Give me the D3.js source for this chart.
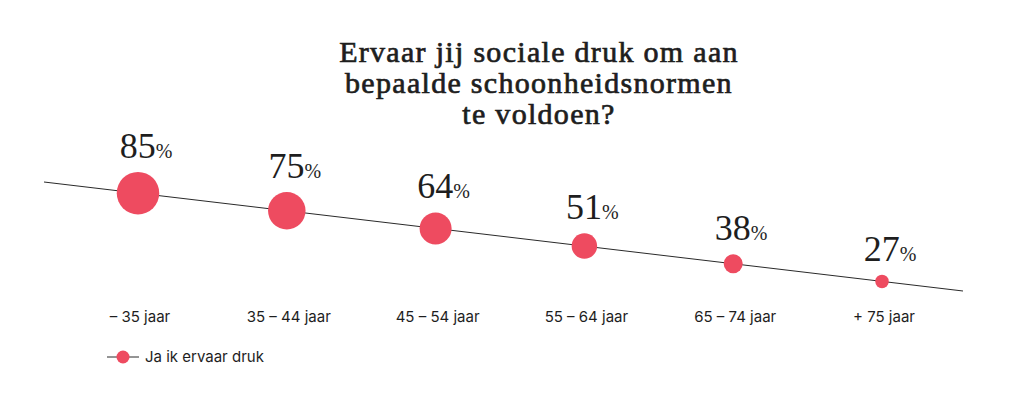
<!DOCTYPE html>
<html>
<head>
<meta charset="utf-8">
<script src="https://cdn.jsdelivr.net/npm/d3@7"></script>
<style>
  html, body { margin: 0; padding: 0; background: #fff; }
  svg { display: block; }
</style>
</head>
<body>
<svg id="chart" width="1024" height="420"></svg>
<script>
const titleLines = ["Ervaar jij sociale druk om aan", "bepaalde schoonheidsnormen", "te voldoen?"];
const categories = ["\u2013 35 jaar", "35 \u2013 44 jaar", "45 \u2013 54 jaar", "55 \u2013 64 jaar", "65 \u2013 74 jaar", "+ 75 jaar"];
const values = [85, 75, 64, 51, 38, 27];
const seriesName = "Ja ik ervaar druk";

const color = "#ee4b60";
const textColor = "#1e1e1e";
const serif = "'Liberation Serif', 'DejaVu Serif', serif";
const sans = "Inter, 'Noto Sans', sans-serif";

const svg = d3.select("#chart");

// Title
svg.append("text")
  .attr("text-anchor", "middle")
  .attr("font-family", serif)
  .attr("font-weight", 400)
  .attr("font-size", 30)
  .attr("letter-spacing", 1.3)
  .attr("fill", textColor)
  .attr("stroke", textColor)
  .attr("stroke-width", 0.7)
  .selectAll("tspan")
  .data(titleLines)
  .join("tspan")
  .attr("x", 539)
  .attr("y", (d, i) => 62 + i * 31)
  .text(d => d);

// Scales
const x = d3.scalePoint().domain(categories).range([138, 882]);
const lineX = [44, 963];
const y = d3.scaleLinear().domain(lineX).range([182, 291]); // sloped baseline
const r = d3.scaleLinear().domain([0, 100]).range([0, 25]);

// Line
svg.append("line")
  .attr("x1", lineX[0]).attr("y1", y(lineX[0]))
  .attr("x2", lineX[1]).attr("y2", y(lineX[1]))
  .attr("stroke", "#2a2a2a")
  .attr("stroke-width", 1);

const data = categories.map((c, i) => ({ c, v: values[i] }));

// Circles
svg.selectAll("circle.pt")
  .data(data)
  .join("circle")
  .attr("class", "pt")
  .attr("cx", d => x(d.c))
  .attr("cy", d => y(x(d.c)))
  .attr("r", d => r(d.v))
  .attr("fill", color);

// Value labels
const lbl = svg.selectAll("text.val")
  .data(data)
  .join("text")
  .attr("class", "val")
  .attr("text-anchor", "middle")
  .attr("x", d => x(d.c) + 8)
  .attr("y", d => y(x(d.c)) - r(d.v) - 14)
  .attr("font-family", serif)
  .attr("fill", textColor);
lbl.append("tspan").attr("font-size", 36).text(d => d.v);
lbl.append("tspan").attr("font-size", 20).text("%");

// Category labels
svg.selectAll("text.cat")
  .data(data)
  .join("text")
  .attr("class", "cat")
  .attr("text-anchor", "middle")
  .attr("x", d => x(d.c) + 2)
  .attr("y", 322)
  .attr("font-family", sans)
  .attr("font-size", 15)
  .attr("fill", textColor)
  .text(d => d.c);

// Legend
const lg = svg.append("g");
lg.append("line").attr("x1", 107).attr("x2", 139).attr("y1", 357).attr("y2", 357)
  .attr("stroke", "#2a2a2a").attr("stroke-width", 1);
lg.append("circle").attr("cx", 123).attr("cy", 357).attr("r", 6.5).attr("fill", color);
lg.append("text").attr("x", 145).attr("y", 362)
  .attr("font-family", sans).attr("font-size", 15).attr("fill", textColor)
  .text(seriesName);
</script>
</body>
</html>
